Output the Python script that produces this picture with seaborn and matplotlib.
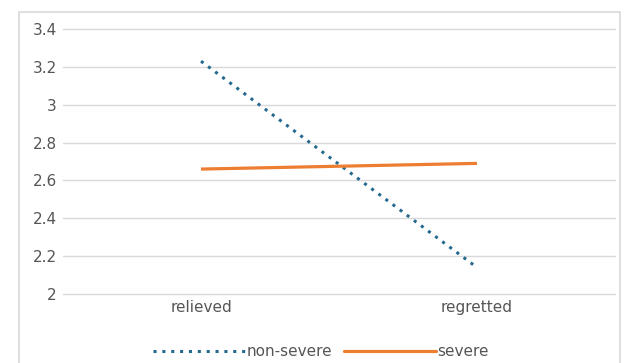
import matplotlib
matplotlib.use("Agg")
import matplotlib.pyplot as plt
from matplotlib.patches import Rectangle
from matplotlib.lines import Line2D
import seaborn as sns
import pandas as pd

categories = ["relieved", "regretted"]
non_severe = [3.23, 2.14]
severe = [2.66, 2.69]
y_ticks = [2, 2.2, 2.4, 2.6, 2.8, 3, 3.2, 3.4]
y_tick_labels = ["2", "2.2", "2.4", "2.6", "2.8", "3", "3.2", "3.4"]

sns.set_theme(style="white")
plt.rcParams["font.family"] = ["DejaVu Sans"]

BLUE = "#256A8E"
ORANGE = "#ED7D31"
GREY_TEXT = "#555555"
GRID = "#D9D9D9"

df = pd.DataFrame({
    "outcome": categories * 2,
    "score": non_severe + severe,
    "group": ["non-severe"] * 2 + ["severe"] * 2,
})

W, H = 625, 363
fig = plt.figure(figsize=(W / 100, H / 100), dpi=100)
ax = fig.add_axes([63 / W, (H - 294) / H, (615 - 63) / W, (294 - 29) / H])

# chart frame
fig.patches.append(Rectangle((19 / W, -0.05), (620 - 19) / W, (H - 12) / H + 0.05,
                             transform=fig.transFigure, fill=False,
                             edgecolor=GRID, linewidth=1.2, zorder=0))

dotted = (0, (1, 1.9))
sns.lineplot(data=df[df.group == "non-severe"], x="outcome", y="score", ax=ax,
             color=BLUE, linewidth=2.2, legend=False)
sns.lineplot(data=df[df.group == "severe"], x="outcome", y="score", ax=ax,
             color=ORANGE, linewidth=2.3, legend=False)
ax.lines[0].set_linestyle(dotted)
ax.lines[0].set_dash_capstyle("butt")
ax.lines[1].set_solid_capstyle("butt")

ax.set_xlim(-0.5, 1.5)
ax.set_ylim(2, 3.4)
ax.set_yticks(y_ticks)
ax.set_yticklabels(y_tick_labels)
ax.yaxis.grid(True, color=GRID, linewidth=1)
for gl in ax.yaxis.get_gridlines():
    gl.set_clip_on(False)
ax.xaxis.grid(False)
ax.set_axisbelow(True)
for s in ax.spines.values():
    s.set_visible(False)
ax.set_xlabel("")
ax.set_ylabel("")
ax.tick_params(axis="y", length=0, pad=4.5, labelsize=11, labelcolor=GREY_TEXT)
ax.tick_params(axis="x", length=0, pad=4, labelsize=11, labelcolor=GREY_TEXT)

handles = [
    Line2D([], [], color=BLUE, linewidth=2.2, linestyle=dotted, dash_capstyle="butt"),
    Line2D([], [], color=ORANGE, linewidth=2.3),
]
fig.legend(handles, ["non-severe", "severe"], loc="center",
           bbox_to_anchor=(321 / W, 11 / H), ncol=2, frameon=False,
           fontsize=11, labelcolor=GREY_TEXT, handlelength=6.0,
           handletextpad=0.1, columnspacing=0.8)

fig.savefig("out.png", dpi=100, facecolor="white")
